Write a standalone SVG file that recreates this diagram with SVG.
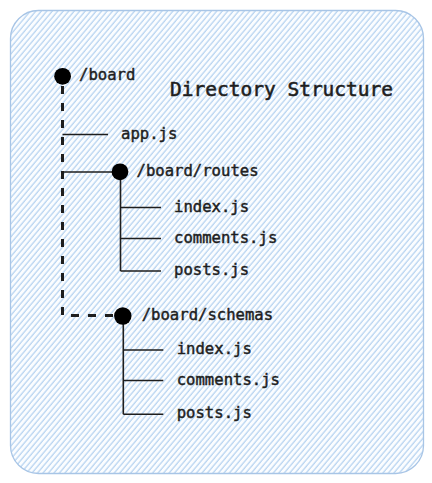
<svg xmlns="http://www.w3.org/2000/svg" width="432" height="483" viewBox="0 0 432 483">
  <style>
    .t { font-family: "DejaVu Sans Mono", "Liberation Mono", monospace; font-size: 15.6px; fill: #1e1e1e; stroke: #1e1e1e; stroke-width: 0.45px; }
    .title { font-family: "DejaVu Sans Mono", "Liberation Mono", monospace; font-size: 19.5px; fill: #1e1e1e; stroke: #1e1e1e; stroke-width: 0.55px; }
    .solid { stroke: #1e1e1e; stroke-width: 1.6; fill: none; }
    .dash { stroke: #1e1e1e; stroke-width: 3; fill: none; stroke-dasharray: 8 9; }
    .dot { fill: #000; }
  </style>
  <defs>
    <pattern id="hatch" width="4.2" height="4.2" patternUnits="userSpaceOnUse" patternTransform="rotate(40)">
      <rect width="4.2" height="4.2" fill="#fbfdff"/>
      <line x1="1" y1="0" x2="1" y2="4.2" stroke="#b8d4f1" stroke-width="1.3"/>
    </pattern>
  </defs>
  <g id="frame">
    <rect x="10.5" y="10.5" width="413" height="463" rx="28" ry="28" fill="url(#hatch)" stroke="#a8c5e6" stroke-width="1.3"/>
  </g>
  <g id="title">
    <text class="title" x="170" y="96">Directory Structure</text>
  </g>
  <g id="connectors">
    <path class="dash" d="M62.5 86 V315.5 H114"/>
    <path class="solid" d="M62.5 134.5 H108"/>
    <path class="solid" d="M62.5 172 H112"/>
    <path class="solid" d="M120.5 172 V271 M120.5 207.5 H161 M120.5 238.5 H161 M120.5 271 H161"/>
    <path class="solid" d="M123.3 316 V414.3 M123.3 350 H163.3 M123.3 380.5 H163.3 M123.3 414.3 H163.3"/>
  </g>
  <g id="board">
    <circle class="dot" cx="62.6" cy="76.3" r="8.4"/>
    <text class="t" x="79" y="80">/board</text>
  </g>
  <g id="app-js">
    <text class="t" x="121" y="138.5">app.js</text>
  </g>
  <g id="board-routes">
    <circle class="dot" cx="120" cy="171.8" r="8.4"/>
    <text class="t" x="136.5" y="175.5">/board/routes</text>
  </g>
  <g id="routes-index">
    <text class="t" x="174" y="211.5">index.js</text>
  </g>
  <g id="routes-comments">
    <text class="t" x="174" y="242.5">comments.js</text>
  </g>
  <g id="routes-posts">
    <text class="t" x="174" y="274.5">posts.js</text>
  </g>
  <g id="board-schemas">
    <circle class="dot" cx="122.8" cy="316" r="8.7"/>
    <text class="t" x="141.7" y="319.5">/board/schemas</text>
  </g>
  <g id="schemas-index">
    <text class="t" x="176.7" y="353.5">index.js</text>
  </g>
  <g id="schemas-comments">
    <text class="t" x="176.7" y="384.5">comments.js</text>
  </g>
  <g id="schemas-posts">
    <text class="t" x="176.7" y="417.5">posts.js</text>
  </g>
</svg>
